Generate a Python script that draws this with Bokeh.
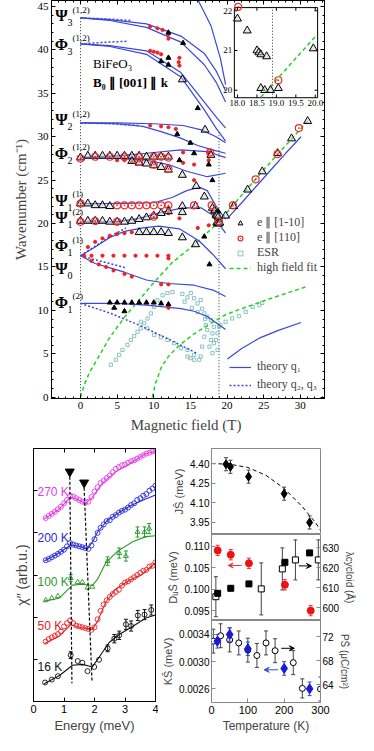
from bokeh.plotting import figure
from bokeh.models import (Range1d, LinearAxis, FixedTicker, SingleIntervalTicker, PrintfTickFormatter,
                          CustomJSTickFormatter, Label, Legend, LegendItem, Arrow, VeeHead)
from bokeh.layouts import column, row
from bokeh.embed import file_html
from bokeh.resources import INLINE
from bokeh.core.properties import value

SERIF = "Liberation Serif"
SANS = "Liberation Sans"
BLUE = "#3a48d8"
GREEN = "#22d422"
ESRC = "#6fb5b5"

# ---------------- panel (a) data: (B [T], wavenumber [cm-1]) ----------------
q1_psi3a = [(0, 43.7), (4, 43.5), (9, 43.0), (13.7, 41.6), (16.9, 39.6), (18.5, 37.6), (19.8, 35.3)]
q1_psi3b = [(0, 43.7), (4, 43.4), (9, 42.6), (13.7, 40.9), (16.9, 38.3), (18.5, 36.3), (19.8, 34.0)]
q1_phi3a = [(0, 40.7), (4, 40.5), (9, 39.9), (13.7, 37.4), (16.9, 34.0), (18.5, 32.3), (19.8, 31.0)]
q1_phi3b = [(0, 40.7), (4, 40.4), (9, 39.5), (13.7, 36.9), (16.9, 33.1), (18.5, 31.0), (19.8, 29.5)]
q1_steep = [(15.5, 46.6), (16.8, 44.5), (17.8, 42.8), (19.1, 39.0), (19.8, 36.0)]
q1_psi2a = [(0, 31.6), (5, 31.6), (10, 31.5), (14, 31.3), (16.5, 30.8), (18.5, 30.0), (19.8, 29.3)]
q1_psi2b = [(0, 31.6), (5, 31.5), (8.5, 31.2), (11, 30.6), (13.5, 29.9), (16, 29.0), (18, 28.5), (19.8, 28.1)]
q1_phi2a = [(0, 27.6), (5, 27.8), (9, 28.1), (13.7, 28.5), (17.3, 28.3), (19.8, 27.6)]
q1_phi2b = [(0, 27.6), (5, 27.5), (9, 27.3), (12, 26.8), (14.6, 26.0), (17.3, 25.4), (19.8, 25.8)]
q1_psi1a = [(0, 22.3), (5, 22.3), (10, 22.4), (12.5, 23.0), (14.5, 23.8), (16.2, 24.2), (17.3, 23.8), (18.5, 22.0), (19.8, 20.5)]
q1_psi1b = [(0, 20.2), (5, 20.2), (8, 20.6), (11, 21.3), (14, 21.8), (16.5, 21.8), (18, 21.0), (19.8, 18.9)]
q1_phi1a = [(0, 16.3), (2, 17.3), (4, 18.4), (6, 19.1), (8.5, 19.5), (10.7, 19.7), (13.5, 19.4), (16.2, 18.0), (18, 16.5), (19.8, 14.8)]
q1_psi0 = [(0, 16.3), (2, 15.4), (4, 14.9), (6, 14.4), (9, 13.5), (12, 13.1), (15.5, 12.9), (18.2, 12.3), (19.8, 11.6)]
q1_phi1b = [(0, 10.8), (5, 10.8), (9, 10.6), (13.7, 10.2), (15.5, 9.9), (17.3, 9.3), (19.8, 7.8)]
q1_high1 = [(20.05, 20.6), (22, 22.4), (24, 24.3), (26, 26.2), (28, 28.1), (30.1, 30.0)]
q1_high2 = [(20.05, 4.4), (22, 5.6), (24.4, 6.8), (27, 7.7), (30.1, 8.6)]

q23_psi3 = [(0, 43.7), (3, 43.6), (7, 43.4)]
q23_phi3 = [(0, 40.7), (3.5, 40.9), (6.5, 41.0)]
q23_psi2 = [(0, 31.6), (4, 31.5), (8, 31.3)]
q23_phi2 = [(0, 27.6), (3.5, 27.7), (7, 27.9)]
q23_phi1a = [(0, 16.3), (2, 17.4), (4, 18.5), (6.2, 19.5)]
q23_psi0 = [(0, 16.3), (3, 15.6), (6.2, 14.9)]
q23_phi1b = [(0, 10.8), (4, 9.7), (8, 8.3), (12, 6.7), (16, 5.0)]

fit_low = [(0, 0), (0.5, 1.4), (1.2, 2.8), (2.3, 4.4), (4, 6.9), (6, 9.2), (8, 11.2), (10, 13.2),
           (12.5, 15.5), (15.3, 17.4), (18.9, 20.2), (20.7, 22.0), (25, 26.2), (31, 31.8)]
fit_high = [(9.8, 0), (10.2, 1.5), (11, 3.4), (12, 4.7), (13.5, 6.0), (15.5, 7.3), (17.6, 8.4),
            (19.8, 9.5), (22, 10.2), (25, 11.1), (30.7, 12.7)]

tri_pts = [(0, 27.6), (1, 27.8), (2, 27.8), (3, 27.8), (4, 27.8), (5, 27.8), (6, 27.8), (7, 27.8), (8, 27.8),
           (9, 27.7), (10, 27.7), (11, 27.7), (12, 27.7),
           (7, 27.2), (8, 27.0), (9, 26.9), (10, 26.7), (11, 26.5), (12, 26.2),
           (0, 22.3), (1, 22.3), (2, 22.1), (3, 22.1), (4, 22.0),
           (0, 20.3), (1, 20.3), (2, 20.3), (3, 20.3), (4, 20.2), (5, 20.2), (6, 20.2), (7, 20.3), (8, 20.5),
           (9, 20.7), (10, 20.9), (11, 21.2), (12, 21.4),
           (8, 19.0), (9, 19.0), (10, 19.0), (11, 19.0), (12, 18.9),
           (13.9, 25.6), (15.8, 24.3), (16.9, 23.1), (17.8, 27.9), (13.9, 22.0), (13.9, 21.3), (13.9, 18.4),
           (15.7, 22.0), (15.7, 17.6), (17.0, 30.8), (13.9, 36.6),
           (18.0, 21.8), (18.3, 21.5), (18.5, 21.0), (18.6, 20.9), (18.8, 20.8), (18.6, 20.1), (18.7, 20.0),
           (18.9, 20.0), (19.0, 20.1),
           (19.8, 20.9), (20.9, 22.0), (22.8, 23.9), (24.8, 26.0), (26.9, 28.1), (28.8, 29.8), (31.0, 31.8)]
circ_pts = [(0, 27.5), (2, 27.7), (4, 27.7), (6, 27.7), (8, 27.7), (10, 27.7), (11, 27.7), (12, 27.6),
            (8, 27.1), (10, 26.8), (12, 26.3),
            (0, 22.3), (5, 22.1), (6, 22.1), (7, 22.1), (8, 22.1), (9, 22.1), (10, 22.1), (11, 22.1), (12, 22.1),
            (0, 20.2), (2, 20.3), (5, 20.2), (10, 20.8),
            (17.7, 28.2), (15.5, 22.1), (17.9, 22.1), (18.9, 20.2),
            (20.8, 22.1), (23.9, 25.1), (26.9, 28.0), (29.8, 31.0)]
reddot_pts = [(9.5, 42.7), (10.5, 42.5), (11.2, 42.3), (12, 41.8), (12, 41.3),
              (9.5, 39.9), (10, 39.8), (10.5, 39.7), (11, 39.5), (12, 39.1), (13.4, 38.6), (13.5, 39.1), (13.5, 38.2),
              (9.5, 31.3), (11, 31.2), (12, 31.1), (13, 30.9),
              (5, 27.3), (6, 27.3), (7, 27.1), (14, 28.2), (14, 27.0), (15.5, 26.8), (15.5, 25.0), (17.5, 28.2), (17.5, 27.3),
              (12, 21.8), (12, 21.2), (13.5, 20.6), (16, 19.5), (17.5, 19.8), (18.0, 21.3), (18.5, 20.5),
              (1, 17.3), (2, 17.9), (3, 18.3), (4, 18.6), (5, 18.8), (6, 18.9), (7, 19.0),
              (0.5, 16.3), (1.5, 16.3), (3, 16.3), (4.5, 16.3), (6, 16.3), (7.5, 16.3), (9, 16.3), (10.5, 16.3),
              (12, 16.3), (12, 16.0),
              (1.5, 15.7), (2.5, 15.3), (3.5, 15.0), (4.5, 14.6), (6, 14.2), (7, 13.9), (11, 13.0), (12, 13.0),
              (12, 10.3), (12, 10.6)]
blacktri_pts = [(12, 42.0), (14, 40.8), (11, 38.7), (12, 38.3), (12, 39.1), (16, 33.3), (13.2, 30.3), (15, 29.3),
                (17.5, 26.8), (18, 25.0), (13.5, 27.3), (15.5, 28.1), (16.9, 18.5), (17.6, 15.3), (18.8, 21.4),
                (4, 10.9), (5, 10.9), (6, 10.9), (7, 10.9), (8, 10.9), (9, 10.9), (10, 10.9), (11, 10.8), (12, 10.7),
                (4.6, 10.3), (6, 9.9)]
esr_pts = [(4.14, 3.74), (4.82, 4.31), (5.27, 4.88), (5.73, 5.45), (6.41, 6.02), (6.87, 6.59), (7.32, 7.05),
           (7.78, 7.54), (8.23, 7.93), (8.69, 8.50), (9.14, 9.07), (9.6, 9.65), (10.05, 10.4), (10.5, 11.17),
           (11.2, 11.74), (11.87, 12.0), (12.55, 12.11),
           (8.23, 8.69), (9.14, 7.93), (10.05, 7.17), (10.96, 6.9), (11.87, 6.6), (12.78, 6.22), (13.7, 5.65),
           (14.6, 5.45), (15.5, 4.88), (16.2, 4.31), (15.0, 4.5),
           (13.9, 11.9), (14.6, 11.5), (15.05, 12.0), (15.5, 11.4), (15.96, 10.8), (16.4, 11.2), (16.6, 10.2),
           (16.9, 9.65), (17.3, 9.26), (17.8, 8.88), (18.2, 8.11), (18.0, 7.35), (17.8, 6.59), (17.6, 5.83),
           (18.0, 5.07), (16.9, 6.97), (16.6, 5.83), (16.4, 4.69), (18.5, 6.59), (18.7, 5.45), (17.3, 7.74),
           (17.1, 8.3), (18.2, 6.22), (15.5, 4.31), (14.6, 4.69), (18.7, 7.36), (18.9, 8.11),
           (14.2, 11.0), (15.2, 10.3), (16.0, 9.8), (17.0, 9.0),
           (19.1, 8.31), (19.8, 8.69), (20.7, 9.07), (21.6, 9.33), (22.55, 9.83), (23.5, 10.4), (24.4, 10.6),
           (24.8, 10.86)]
B_transition = 18.9

mode_sym = ["Ψ", "Φ", "Ψ", "Φ", "Ψ", "Ψ", "Φ", "Ψ", "Φ"]
mode_sub = ["3", "3", "2", "2", "1", "1", "1", "0", "1"]
mode_sup = ["(1,2)", "(1,2)", "(1,2)", "(1,2)", "(1)", "(2)", "(1)", "", "(2)"]
mode_lbl_W = [43.97, 40.65, 31.96, 28.08, 22.68, 20.65, 17.46, 14.82, 10.93]

# inset (zoom near the transition)
ins_tri = [(18.0, 21.8), (18.25, 21.5), (18.5, 21.0), (18.55, 20.95), (18.6, 20.9), (18.75, 20.85),
           (18.6, 20.05), (18.7, 20.0), (18.85, 20.0), (19.05, 20.05), (19.95, 21.05)]
ins_circ = [(18.02, 22.1), (19.05, 20.25)]
ins_fit = [(18.6, 19.82), (20.0, 21.35)]
ins_xticks = [18.0, 18.5, 19.0, 19.5, 20.0]
ins_yticks = [20, 21, 22]

# ---------------- panel (b) left: chi'' spectra ----------------
E_grid = [round(0.4 + 0.1 * i, 1) for i in range(37)]
mag_pts_y = [4.35, 4.40, 4.45, 4.50, 4.56, 4.62, 4.70, 4.78, 4.88, 4.86, 4.82, 4.78, 4.74, 4.72, 4.74, 4.85,
             4.98, 5.08, 5.18, 5.24, 5.30, 5.36, 5.44, 5.52, 5.56, 5.60, 5.62, 5.66, 5.70, 5.72, 5.76, 5.80,
             5.84, 5.88, 5.90, 5.93, 5.95]
blu_pts_y = [3.35, 3.38, 3.42, 3.46, 3.50, 3.55, 3.60, 3.68, 3.76, 3.72, 3.70, 3.68, 3.66, 3.64, 3.62, 3.70,
             3.85, 4.00, 4.12, 4.20, 4.28, 4.30, 4.38, 4.42, 4.48, 4.52, 4.55, 4.60, 4.66, 4.70, 4.78, 4.82,
             4.88, 4.92, 5.00, 5.05, 5.12]
red_pts_y = [1.42, 1.48, 1.52, 1.56, 1.60, 1.66, 1.78, 1.86, 1.92, 1.86, 1.80, 1.78, 1.76, 1.74, 1.72, 1.70,
             1.76, 1.95, 2.15, 2.30, 2.40, 2.48, 2.55, 2.60, 2.65, 2.75, 2.82, 2.85, 2.90, 2.95, 3.00, 3.05,
             3.10, 3.12, 3.20, 3.22, 3.30]
grn_E = [0.4, 0.6, 0.8, 1.22, 1.45, 1.6, 1.77, 1.93, 2.43, 2.81, 3.03, 3.41, 3.64, 3.79]
grn_y = [2.40, 2.45, 2.50, 2.93, 2.83, 2.83, 2.70, 2.72, 3.33, 3.52, 3.45, 4.02, 4.02, 4.10]
grn_err = [0, 0, 0, 0.08, 0, 0, 0, 0, 0.1, 0.12, 0.12, 0.12, 0.12, 0.12]
blk_E = [0.38, 0.6, 0.8, 1.22, 1.45, 1.6, 1.77, 1.99, 2.15, 2.43, 2.65, 2.81, 3.03, 3.2, 3.42, 3.64, 3.86]
blk_y = [0.45, 0.52, 0.60, 1.10, 0.96, 0.92, 0.72, 0.82, 0.99, 1.26, 1.49, 1.57, 1.83, 1.79, 2.04, 2.06, 2.17]
blk_err = [0, 0, 0, 0.08, 0, 0, 0, 0, 0, 0.08, 0.1, 0.1, 0.12, 0.12, 0.12, 0.12, 0.12]

mag_line = [(0.35, 4.33), (0.84, 4.56), (1.22, 4.85), (1.45, 4.79), (1.71, 4.70), (1.93, 4.84), (2.26, 5.18),
            (2.7, 5.45), (3.25, 5.68), (3.68, 5.88), (4.0, 5.93)]
blu_line = [(0.35, 3.33), (0.84, 3.52), (1.22, 3.71), (1.5, 3.68), (1.77, 3.62), (1.95, 3.80), (2.1, 4.02),
            (2.4, 4.28), (2.8, 4.48), (3.2, 4.65), (3.6, 4.78), (4.0, 4.90)]
grn_line = [(0.35, 2.38), (0.84, 2.45), (1.28, 2.76), (1.6, 2.78), (1.93, 2.75), (2.1, 2.90), (2.37, 3.29),
            (2.75, 3.56), (3.25, 3.79), (3.68, 3.91), (4.0, 3.93)]
red_line = [(0.35, 1.37), (0.84, 1.55), (1.22, 1.82), (1.5, 1.76), (1.93, 1.71), (2.1, 1.90), (2.37, 2.36),
            (2.7, 2.67), (3.14, 2.87), (3.57, 3.02), (4.0, 3.29)]
blk_line = [(0.35, 0.42), (0.84, 0.61), (1.28, 0.86), (1.61, 0.88), (1.93, 0.82), (2.15, 1.05), (2.48, 1.40),
            (2.81, 1.59), (3.25, 1.78), (3.68, 1.98), (4.0, 2.05)]
temp_labels = ["270 K", "200 K", "100 K", "50 K", "16 K"]
temp_label_y = [4.96, 3.87, 2.83, 1.78, 0.82]
temp_colors = ["#e43ce4", "#2b2bd8", "#2a9a2a", "#e52222", "#111111"]
mode_line1 = [(1.19, 5.33), (1.26, 0.43)]
mode_line2 = [(1.66, 5.07), (1.92, 0.45)]

# ---------------- panel (b) right: parameters vs temperature ----------------
J_T = [40, 52, 102, 200, 270]
J_val = [4.395, 4.375, 4.30, 4.17, 3.95]
J_err = [0.05, 0.05, 0.05, 0.05, 0.05]
J_fit = [(0, 4.40), (50, 4.395), (100, 4.37), (150, 4.31), (200, 4.21), (250, 4.07), (286, 3.95), (300, 3.89)]
J_ticks = [3.95, 4.10, 4.25, 4.40]

D_T = [17, 53, 103, 202, 273]
D_val = [0.109, 0.108, 0.106, 0.101, 0.095]
D_err = [0.0012, 0.0012, 0.0012, 0.0012, 0.0012]
lam_T = [17, 53, 103, 202, 270]
lam_val = [607.3, 609.8, 612.0, 622.8, 627.5]
lam2_T = [12, 137, 195, 231, 294]
lam2_val = [605.6, 609.5, 619.5, 624.0, 624.0]
lam2_err = [10, 13, 10.5, 10, 10]
D_ticks = [0.095, 0.100, 0.105, 0.110]
lam_ticks = [600, 610, 620, 630]

K_T = [16, 50, 100, 200, 270]
K_val = [0.00330, 0.00340, 0.00319, 0.00290, 0.00260]
K_err = [0.0001, 0.0001, 0.0001, 0.0001, 0.0001]
P_T = [5, 25, 50, 75, 100, 125, 150, 175, 225, 250, 300]
P_val = [71.3, 72.2, 71.5, 71.0, 69.8, 68.9, 71.0, 69.7, 67.7, 63.4, 63.3]
P_err = [2, 2, 2, 2, 2, 2, 2, 2, 2, 1.6, 2]
K_ticks = [0.0026, 0.0030, 0.0034]
P_ticks = [64, 68, 72]
T_ticks = [0, 100, 200, 300]


def unz(pts):
    return [p[0] for p in pts], [p[1] for p in pts]


def style_axis(ax, font, size, color="black", major=4, minor=2):
    ax.major_tick_in = major
    ax.major_tick_out = 0
    ax.minor_tick_in = minor
    ax.minor_tick_out = 0
    ax.major_label_text_font = font
    ax.major_label_text_font_size = size
    ax.major_label_text_color = "black"
    ax.axis_label_text_font = font
    ax.axis_label_text_font_style = "normal"
    ax.axis_line_color = color
    ax.major_tick_line_color = color
    ax.minor_tick_line_color = color
    ax.major_label_standoff = 3


def blank_axis(ticker, color="black", major=4, minor=2, **kw):
    ax = LinearAxis(ticker=ticker, formatter=CustomJSTickFormatter(code="return ''"), **kw)
    ax.major_label_text_font_size = "0px"
    ax.major_label_standoff = 0
    ax.major_tick_in = major
    ax.major_tick_out = 0
    ax.minor_tick_in = minor
    ax.minor_tick_out = 0
    ax.axis_line_color = color
    ax.major_tick_line_color = color
    ax.minor_tick_line_color = color
    return ax


def errbars(p, x, y, e, color, cap=5, **kw):
    xs, lo, hi = [], [], []
    for a, b, c in zip(x, y, e):
        if c > 0:
            xs.append(a)
            lo.append(b - c)
            hi.append(b + c)
    p.segment(x0=xs, y0=lo, x1=xs, y1=hi, line_color=color, line_width=1, **kw)
    p.scatter(xs + xs, lo + hi, marker="dash", size=cap, line_color=color, **kw)


# =================== panel (a) ===================
pa = figure(width=358, height=436, x_range=Range1d(-3.96, 33.3), y_range=Range1d(-0.15, 45.7),
            output_backend="svg", toolbar_location=None,
            min_border_left=51, min_border_right=34, min_border_top=0, min_border_bottom=38)
pa.grid.visible = False
pa.outline_line_color = "black"
pa.xaxis.ticker = SingleIntervalTicker(interval=5, num_minor_ticks=5)
pa.yaxis.ticker = SingleIntervalTicker(interval=5, num_minor_ticks=5)
style_axis(pa.xaxis[0], SERIF, "11px")
style_axis(pa.yaxis[0], SERIF, "11px")
pa.xaxis.axis_label = "Magnetic field  (T)"
pa.yaxis.axis_label = "Wavenumber (cm⁻¹)"
pa.xaxis.axis_label_text_font_size = "15px"
pa.yaxis.axis_label_text_font_size = "15px"
pa.xaxis.axis_label_standoff = 5
pa.yaxis.axis_label_standoff = 6
pa.add_layout(blank_axis(SingleIntervalTicker(interval=5, num_minor_ticks=5)), "above")
pa.add_layout(blank_axis(SingleIntervalTicker(interval=5, num_minor_ticks=5)), "right")

# dotted guide lines at B=0 and at the transition
pa.line([0, 0], [0, 43.7], line_color="black", line_dash="1 2", line_width=0.8)
pa.line([B_transition, B_transition], [0, 30.5], line_color="black", line_dash="1 2", line_width=0.8)

# ESR points
r_esr = pa.scatter(*unz(esr_pts), marker="square", size=3.2, line_color=ESRC, fill_color=None, line_width=0.8)

# high-field fits
r_fit = None
for c in (fit_low, fit_high):
    r = pa.line(*unz(c), line_color=GREEN, line_dash="4 3", line_width=1.5)
    r_fit = r_fit or r

# theory q1
r_q1 = None
for c in (q1_psi3a, q1_psi3b, q1_phi3a, q1_phi3b, q1_steep, q1_psi2a, q1_psi2b, q1_phi2a, q1_phi2b,
          q1_psi1a, q1_psi1b, q1_phi1a, q1_psi0, q1_phi1b, q1_high1, q1_high2):
    r = pa.line(*unz(c), line_color=BLUE, line_width=1.2)
    r_q1 = r_q1 or r
# theory q2, q3
r_q23 = None
for c in (q23_psi3, q23_phi3, q23_psi2, q23_phi2, q23_phi1a, q23_psi0, q23_phi1b):
    r = pa.line(*unz(c), line_color=BLUE, line_dash="2 2", line_width=1.5)
    r_q23 = r_q23 or r

# data points
pa.scatter(*unz(reddot_pts), marker="circle", size=3.2, fill_color="#ee2222", line_color="#ee2222")
pa.scatter(*unz(blacktri_pts), marker="triangle", size=5, fill_color="black", line_color="black")
r_tri = pa.scatter(*unz(tri_pts), marker="triangle", size=8, fill_color="#d0d0d0", fill_alpha=0.5,
                   line_color="black", line_width=1)
r_circ = pa.scatter(*unz(circ_pts), marker="circle_dot", size=7, fill_color=None, line_color="#ee2a2a",
                    line_width=1.2)

# mode labels
lx = [-2.6] * len(mode_sym)
pa.text(x=lx, y=mode_lbl_W, text=mode_sym, text_font=value(SERIF), text_font_size="16px",
        text_font_style="bold", text_align="center", text_baseline="middle", text_color="black")
pa.text(x=lx, y=mode_lbl_W, text=mode_sub, text_font=value(SERIF), text_font_size="10px",
        text_align="left", text_baseline="middle", x_offset=6, y_offset=7, text_color="black")
pa.text(x=lx, y=mode_lbl_W, text=mode_sup, text_font=value(SERIF), text_font_size="9px",
        text_align="left", text_baseline="middle", x_offset=11, y_offset=-6, text_color="black")
pa.text(x=[1.7], y=[38.4], text=["BiFeO₃"], text_font=value(SERIF),
        text_font_size="13px", text_baseline="middle", text_color="black")
pa.text(x=[1.7], y=[36.3], text=["B₀ ∥ [001] ∥ k"], text_font=value(SERIF),
        text_font_size="13px", text_font_style="bold", text_baseline="middle", text_color="black")

# legends
leg1 = Legend(items=[LegendItem(label="e ∥ [1-10]", renderers=[r_tri]),
                     LegendItem(label="e ∥ [110]", renderers=[r_circ]),
                     LegendItem(label="ESR", renderers=[r_esr]),
                     LegendItem(label="high field fit", renderers=[r_fit])],
              location=(176, 121))
leg2 = Legend(items=[LegendItem(label="theory q₁", renderers=[r_q1]),
                     LegendItem(label="theory q₂, q₃", renderers=[r_q23])],
              location=(176, 4))
for lg, sp in ((leg1, 0), (leg2, 3)):
    lg.label_text_font = SERIF
    lg.label_text_font_size = "12px"
    lg.glyph_width = 22
    lg.glyph_height = 12
    lg.label_height = 12
    lg.spacing = sp
    lg.padding = 2
    lg.margin = 0
    lg.label_standoff = 6
    lg.border_line_alpha = 0
    lg.background_fill_alpha = 0
    pa.add_layout(lg)

# inset, drawn in its own ranges within the same frame
pa.extra_x_ranges = {"ix": Range1d(13.219, 20.237)}
pa.extra_y_ranges = {"iy": Range1d(12.234, 22.259)}
IX0, IX1, IY0, IY1 = 17.92, 20.06, 19.81, 22.08
pa.quad(left=[IX0], right=[IX1], bottom=[IY0], top=[IY1], fill_color="white", line_color="black",
        line_width=1, x_range_name="ix", y_range_name="iy")
pa.segment(x0=ins_xticks, x1=ins_xticks, y0=[IY0] * 5, y1=[IY0 + 0.08] * 5, line_color="black",
           x_range_name="ix", y_range_name="iy")
pa.segment(x0=ins_xticks, x1=ins_xticks, y0=[IY1] * 5, y1=[IY1 - 0.08] * 5, line_color="black",
           x_range_name="ix", y_range_name="iy")
pa.segment(x0=[IX0] * 3, x1=[IX0 + 0.08] * 3, y0=ins_yticks, y1=ins_yticks, line_color="black",
           x_range_name="ix", y_range_name="iy")
pa.segment(x0=[IX1] * 3, x1=[IX1 - 0.08] * 3, y0=ins_yticks, y1=ins_yticks, line_color="black",
           x_range_name="ix", y_range_name="iy")
pa.text(x=ins_xticks, y=[IY0] * 5, text=["%.1f" % t for t in ins_xticks], text_font=value(SERIF),
        text_font_size="9px", text_align="center", text_baseline="top", y_offset=2,
        x_range_name="ix", y_range_name="iy", text_color="black")
pa.text(x=[IX0] * 3, y=ins_yticks, text=[str(t) for t in ins_yticks], text_font=value(SERIF),
        text_font_size="9px", text_align="right", text_baseline="middle", x_offset=-2,
        x_range_name="ix", y_range_name="iy", text_color="black")
pa.line([B_transition, B_transition], [IY0, IY1], line_color="black", line_dash="1 2", line_width=0.8,
        x_range_name="ix", y_range_name="iy")
pa.line(*unz(ins_fit), line_color=GREEN, line_dash="4 3", line_width=1.5, x_range_name="ix", y_range_name="iy")
pa.scatter(*unz(ins_tri), marker="triangle", size=8, fill_color="#d0d0d0", fill_alpha=0.5, line_color="black",
           x_range_name="ix", y_range_name="iy")
pa.scatter(*unz(ins_circ), marker="circle_dot", size=7, fill_color=None, line_color="#ee2a2a", line_width=1.2,
           x_range_name="ix", y_range_name="iy")

pa.add_layout(Label(x=-10.6, y=45.7, text="(a)", text_font=SANS, text_font_size="17px",
                    text_baseline="top", text_color="black"))

# =================== panel (b) left ===================
pb = figure(width=158, height=299, x_range=Range1d(0, 4), y_range=Range1d(0, 6),
            output_backend="svg", toolbar_location=None,
            min_border_left=33, min_border_right=3, min_border_top=12, min_border_bottom=28)
pb.grid.visible = False
pb.outline_line_color = "black"
pb.xaxis.ticker = FixedTicker(ticks=[0, 1, 2, 3, 4])
style_axis(pb.xaxis[0], SANS, "11px")
pb.xaxis.axis_label = "Energy (meV)"
pb.xaxis.axis_label_text_font_size = "13px"
pb.xaxis.axis_label_standoff = 2
pb.yaxis.ticker = FixedTicker(ticks=[1, 2, 3, 4, 5])
style_axis(pb.yaxis[0], SANS, "0px")
pb.yaxis.formatter = CustomJSTickFormatter(code="return ''")
pb.yaxis.major_label_standoff = 0
pb.yaxis.axis_label = "χ″ (arb.u.)"
pb.yaxis.axis_label_text_font_size = "14px"
pb.yaxis.axis_label_standoff = 4
pb.add_layout(blank_axis(FixedTicker(ticks=[0, 1, 2, 3, 4])), "above")

series = [(mag_line, E_grid, mag_pts_y, None, "circle", temp_colors[0]),
          (blu_line, E_grid, blu_pts_y, None, "circle", temp_colors[1]),
          (grn_line, grn_E, grn_y, grn_err, "triangle", temp_colors[2]),
          (red_line, E_grid, red_pts_y, None, "circle", temp_colors[3]),
          (blk_line, blk_E, blk_y, blk_err, "circle", temp_colors[4])]
for ln, ex, ey, ee, mk, col in series:
    pb.line(*unz(ln), line_color=col, line_width=1.1)
    if ee is not None:
        errbars(pb, ex, ey, ee, col, cap=4)
    pb.scatter(ex, ey, marker=mk, size=5, fill_color=None, line_color=col, line_width=0.9)
pb.text(x=[0.13] * 5, y=temp_label_y, text=temp_labels, text_color=temp_colors, text_font=value(SANS),
        text_font_size="12px", text_baseline="middle", text_align="left")
for ml in (mode_line1, mode_line2):
    pb.line(*unz(ml), line_color="black", line_dash="3 2", line_width=1.2)
pb.scatter([mode_line1[0][0], mode_line2[0][0]], [mode_line1[0][1] + 0.12, mode_line2[0][1] + 0.12],
           marker="inverted_triangle", size=9, fill_color="black", line_color="black")
pb.add_layout(Label(x=-1.02, y=5.88, text="(b)", text_font=SANS, text_font_size="17px",
                    text_baseline="top", text_color="black"))

# =================== panel (b) right ===================
GRAY = "#888888"


def right_fig(height, yr, top, bottom):
    f = figure(width=200, height=height, x_range=Range1d(0, 300), y_range=Range1d(*yr),
               output_backend="svg", toolbar_location=None,
               min_border_left=45, min_border_right=34, min_border_top=top, min_border_bottom=bottom)
    f.grid.visible = False
    f.outline_line_color = GRAY
    style_axis(f.yaxis[0], SANS, "10px", color=GRAY, minor=0)
    f.yaxis.axis_label_text_font_size = "11px"
    f.yaxis.axis_label_standoff = 2
    f.yaxis.major_label_standoff = 2
    return f


r1 = right_fig(98, (3.858, 4.515), 12, 0)
r1.xaxis.visible = False
r1.yaxis.ticker = FixedTicker(ticks=J_ticks)
r1.yaxis.formatter = PrintfTickFormatter(format="%.2f")
r1.yaxis.axis_label = "JS̄ (meV)"
r1.line(*unz(J_fit), line_color="black", line_dash="4 3", line_width=1)
errbars(r1, J_T, J_val, J_err, "#444444", cap=4)
r1.scatter(J_T, J_val, marker="diamond", size=9, fill_color="black", line_color="black")

r2 = right_fig(86, (0.0927, 0.1127), 0, 0)
r2.xaxis.visible = False
r2.yaxis.ticker = FixedTicker(ticks=D_ticks)
r2.yaxis.formatter = PrintfTickFormatter(format="%.3f")
r2.yaxis.axis_label = "DᵤS̄ (meV)"
r2.extra_y_ranges = {"lam": Range1d(593.7, 636.7)}
ax_lam = LinearAxis(y_range_name="lam", ticker=FixedTicker(ticks=lam_ticks), axis_label="λcycloid (Å)")
style_axis(ax_lam, SANS, "10px", color=GRAY, minor=0)
ax_lam.axis_label_text_font_size = "10px"
ax_lam.axis_label_standoff = 2
ax_lam.major_label_standoff = 2
r2.add_layout(ax_lam, "right")
errbars(r2, lam2_T, lam2_val, lam2_err, "#444444", cap=4, y_range_name="lam")
r2.scatter(lam2_T, lam2_val, marker="square", size=6, fill_color="white", line_color="black",
           y_range_name="lam")
r2.scatter(lam_T, lam_val, marker="square", size=6, fill_color="black", line_color="black", y_range_name="lam")
errbars(r2, D_T, D_val, D_err, "#ee3333", cap=4)
r2.scatter(D_T, D_val, marker="circle", size=7, fill_color="#ee1111", line_color="#ee1111")
r2.add_layout(Arrow(end=VeeHead(size=5, fill_color="#ee3333", line_color="#ee3333"), x_start=83, x_end=46,
                    y_start=0.1055, y_end=0.1055, line_color="#ee3333", line_width=1))
r2.add_layout(Arrow(end=VeeHead(size=5, fill_color="black", line_color="black"), x_start=240, x_end=275,
                    y_start=621, y_end=621, line_color="black", line_width=1, y_range_name="lam"))

r3 = right_fig(115, (0.0023986, 0.003606), 0, 27)
r3.xaxis.ticker = FixedTicker(ticks=T_ticks)
style_axis(r3.xaxis[0], SANS, "11px", color=GRAY, minor=0)
r3.xaxis.axis_label = "Temperature (K)"
r3.xaxis.axis_label_text_font_size = "12px"
r3.xaxis.axis_label_standoff = 2
r3.yaxis.ticker = FixedTicker(ticks=K_ticks)
r3.yaxis.formatter = PrintfTickFormatter(format="%.4f")
r3.yaxis.axis_label = "KS̄ (meV)"
r3.extra_y_ranges = {"pol": Range1d(61.04, 74.75)}
ax_p = LinearAxis(y_range_name="pol", ticker=FixedTicker(ticks=P_ticks), axis_label="PS̄ (μC/cm²)")
style_axis(ax_p, SANS, "10px", color=GRAY, minor=0)
ax_p.axis_label_text_font_size = "10px"
ax_p.axis_label_standoff = 2
ax_p.major_label_standoff = 2
r3.add_layout(ax_p, "right")
errbars(r3, P_T, P_val, P_err, "#444444", cap=4, y_range_name="pol")
r3.scatter(P_T, P_val, marker="circle", size=6, fill_color="white", line_color="black", y_range_name="pol")
errbars(r3, K_T, K_val, K_err, "#3344dd", cap=4)
r3.scatter(K_T, K_val, marker="diamond", size=10, fill_color="#1a1ad8", line_color="#1a1ad8")
r3.add_layout(Arrow(end=VeeHead(size=5, fill_color="#3344dd", line_color="#3344dd"), x_start=183, x_end=145,
                    y_start=0.00288, y_end=0.00288, line_color="#3344dd", line_width=1))
r3.add_layout(Arrow(end=VeeHead(size=5, fill_color="black", line_color="black"), x_start=192, x_end=228,
                    y_start=70.1, y_end=70.1, line_color="black", line_width=1, y_range_name="pol"))

layout = column(pa, row(pb, column(r1, r2, r3)))
open("out.html", "w").write(file_html(layout, INLINE))
